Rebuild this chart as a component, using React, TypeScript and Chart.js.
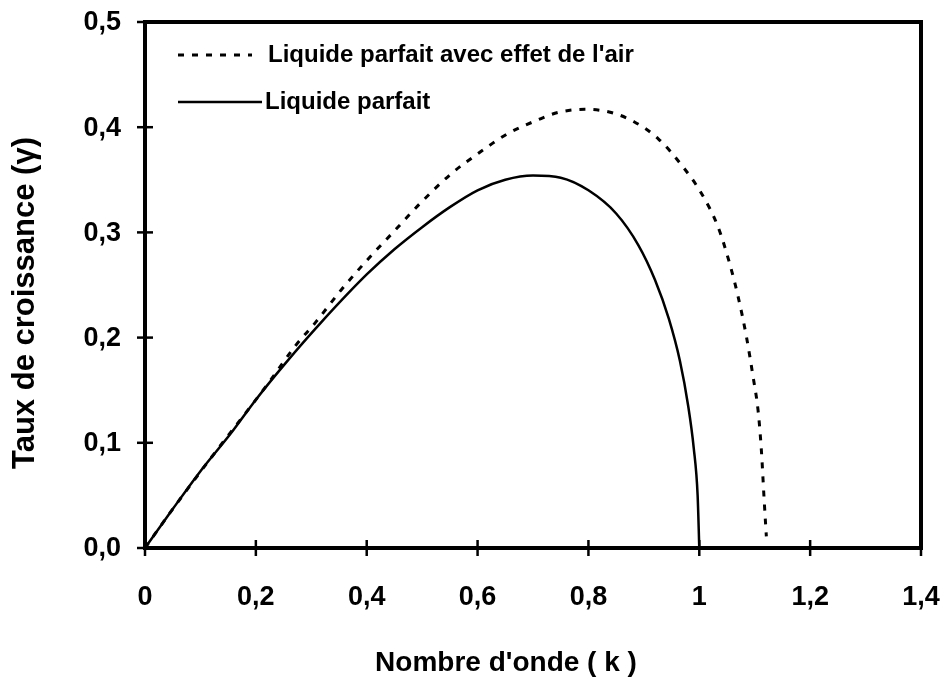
import { useEffect, useRef } from "react";
import { Chart, registerables } from "chart.js";

Chart.register(...registerables);

// Liquide parfait (solid)
const kSolid = [0, 0.05, 0.1, 0.155, 0.2, 0.254, 0.317, 0.4, 0.45, 0.5, 0.55, 0.6, 0.65, 0.7, 0.75, 0.8, 0.85, 0.89, 0.92, 0.945, 0.965, 0.98, 0.99, 0.997, 1.0];
const gammaSolid = [0, 0.037, 0.073, 0.109, 0.141, 0.176, 0.214, 0.26, 0.284, 0.305, 0.324, 0.34, 0.35, 0.354, 0.352, 0.34, 0.318, 0.288, 0.255, 0.218, 0.178, 0.135, 0.095, 0.05, 0];

// Liquide parfait avec effet de l'air (dashed)
const kDashed = [0, 0.05, 0.121, 0.223, 0.271, 0.307, 0.355, 0.403, 0.451, 0.499, 0.553, 0.601, 0.655, 0.709, 0.745, 0.793, 0.841, 0.883, 0.926, 0.968, 1.004, 1.034, 1.055, 1.07, 1.085, 1.097, 1.106, 1.112, 1.117, 1.121];
const gammaDashed = [0, 0.037, 0.087, 0.157, 0.192, 0.214, 0.246, 0.275, 0.302, 0.329, 0.356, 0.375, 0.394, 0.407, 0.414, 0.417, 0.414, 0.405, 0.389, 0.364, 0.337, 0.305, 0.27, 0.239, 0.201, 0.163, 0.131, 0.093, 0.046, 0.011];

const xTickLabels = ["0", "0,2", "0,4", "0,6", "0,8", "1", "1,2", "1,4"];
const yTickLabels = ["0,0", "0,1", "0,2", "0,3", "0,4", "0,5"];
const seriesNames = ["Liquide parfait avec effet de l'air", "Liquide parfait"];
const xTitle = "Nombre d'onde ( k )";
const yTitle = "Taux de croissance (γ)";

const FONT = "'Liberation Sans', Arial, sans-serif";

const framePlugin = {
  id: "framePlugin",
  afterDraw(chart: any) {
    const { ctx, chartArea: a, scales } = chart;
    ctx.save();
    ctx.strokeStyle = "#000";
    ctx.fillStyle = "#000";
    ctx.lineWidth = 4;
    ctx.strokeRect(a.left, a.top, a.right - a.left, a.bottom - a.top);

    ctx.lineWidth = 2.5;
    const tl = 8;
    ctx.font = `bold 27px ${FONT}`;
    ctx.textBaseline = "middle";
    scales.x.ticks.forEach((t: any, i: number) => {
      const px = scales.x.getPixelForValue(t.value);
      ctx.beginPath();
      ctx.moveTo(px, a.bottom - tl);
      ctx.lineTo(px, a.bottom + tl);
      ctx.stroke();
      ctx.textAlign = "center";
      ctx.fillText(xTickLabels[i] ?? "", px, 598);
    });
    scales.y.ticks.forEach((t: any, i: number) => {
      const py = scales.y.getPixelForValue(t.value);
      ctx.beginPath();
      ctx.moveTo(a.left - tl, py);
      ctx.lineTo(a.left + tl, py);
      ctx.stroke();
      ctx.textAlign = "right";
      ctx.fillText(yTickLabels[i] ?? "", 121, py + 1);
    });

    // legend
    ctx.font = `bold 24px ${FONT}`;
    ctx.textBaseline = "middle";
    ctx.textAlign = "left";
    ctx.lineWidth = 3;
    ctx.setLineDash([6, 8]);
    ctx.beginPath();
    ctx.moveTo(178, 55);
    ctx.lineTo(252, 55);
    ctx.stroke();
    ctx.setLineDash([]);
    ctx.lineWidth = 2.5;
    ctx.beginPath();
    ctx.moveTo(178, 102);
    ctx.lineTo(262, 102);
    ctx.stroke();
    ctx.fillText(seriesNames[0], 268, 55);
    ctx.fillText(seriesNames[1], 265, 102);

    // axis titles
    ctx.font = `bold 28px ${FONT}`;
    ctx.textAlign = "center";
    ctx.fillText(xTitle, 506, 663);
    ctx.save();
    ctx.translate(25, 303);
    ctx.rotate(-Math.PI / 2);
    ctx.font = `bold 31px ${FONT}`;
    ctx.fillText(yTitle, 0, 0);
    ctx.restore();

    ctx.restore();
  },
};

export default function App() {
  const ref = useRef<HTMLCanvasElement>(null);

  useEffect(() => {
    if (!ref.current) return;
    const chart = new Chart(ref.current, {
      type: "line",
      data: {
        datasets: [
          {
            label: seriesNames[0],
            data: kDashed.map((k, i) => ({ x: k, y: gammaDashed[i] })),
            borderColor: "#000",
            borderWidth: 3,
            borderDash: [6, 8],
            pointRadius: 0,
            fill: false,
            cubicInterpolationMode: "monotone",
          },
          {
            label: seriesNames[1],
            data: kSolid.map((k, i) => ({ x: k, y: gammaSolid[i] })),
            borderColor: "#000",
            borderWidth: 2.5,
            pointRadius: 0,
            fill: false,
            cubicInterpolationMode: "monotone",
          },
        ],
      },
      options: {
        animation: false,
        responsive: false,
        layout: { padding: { top: 22, right: 26, left: 0, bottom: 0 } },
        plugins: {
          legend: { display: false },
          tooltip: { enabled: false },
          title: { display: false },
        },
        scales: {
          x: {
            type: "linear",
            min: 0,
            max: 1.4,
            ticks: { stepSize: 0.2, display: false },
            grid: { display: false, drawTicks: false },
            border: { display: false },
            afterFit: (s: any) => {
              s.height = 138;
            },
          },
          y: {
            type: "linear",
            min: 0,
            max: 0.5,
            ticks: { stepSize: 0.1, display: false },
            grid: { display: false, drawTicks: false },
            border: { display: false },
            afterFit: (s: any) => {
              s.width = 145;
            },
          },
        },
      },
      plugins: [framePlugin],
    });
    return () => chart.destroy();
  }, []);

  return (
    <div style={{ position: "fixed", left: 0, top: 0, width: 947, height: 686, background: "#fff" }}>
      <canvas ref={ref} width={947} height={686} style={{ display: "block" }} />
    </div>
  );
}
